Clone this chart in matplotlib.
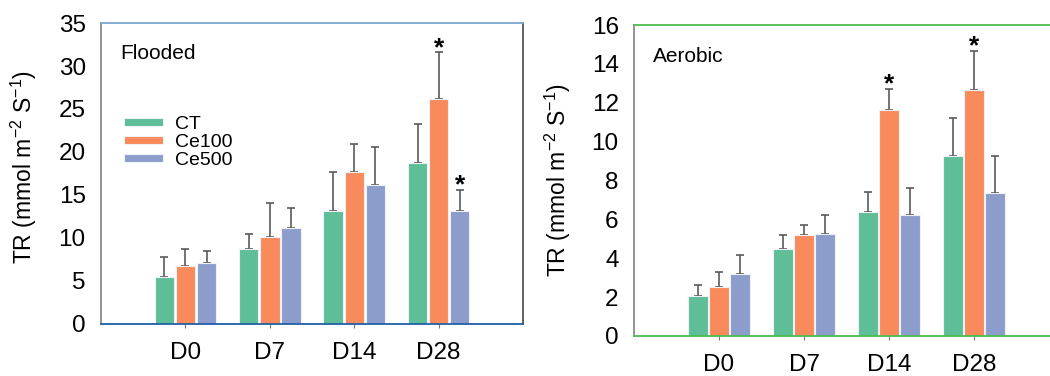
import numpy as np
import matplotlib
matplotlib.use("Agg")
import matplotlib.pyplot as plt

plt.rcParams['font.family'] = ['Liberation Sans', 'DejaVu Sans']
plt.rcParams['mathtext.default'] = 'regular'

# --- data ---
days = ["D0", "D7", "D14", "D28"]
treatments = ["CT", "Ce100", "Ce500"]

flooded_mean = {
    "CT":    [5.4, 8.7, 13.1, 18.7],
    "Ce100": [6.7, 10.1, 17.7, 26.1],
    "Ce500": [7.1, 11.1, 16.1, 13.1],
}
flooded_err = {
    "CT":    [2.3, 1.7, 4.5, 4.5],
    "Ce100": [2.0, 3.9, 3.2, 5.5],
    "Ce500": [1.3, 2.3, 4.5, 2.5],
}
aerobic_mean = {
    "CT":    [2.07, 4.48, 6.40, 9.24],
    "Ce100": [2.53, 5.22, 11.64, 12.64],
    "Ce500": [3.21, 5.24, 6.24, 7.34],
}
aerobic_err = {
    "CT":    [0.55, 0.70, 1.03, 2.00],
    "Ce100": [0.75, 0.50, 1.07, 2.05],
    "Ce500": [0.96, 0.98, 1.35, 1.94],
}
# significance stars: (treatment, day index)
flooded_stars = [("Ce100", 3), ("Ce500", 3)]
aerobic_stars = [("Ce100", 2), ("Ce100", 3)]

colors = {"CT": "#5dbe98", "Ce100": "#f98a5b", "Ce500": "#8c9dcb"}
offsets = {"CT": -0.25, "Ce100": 0.0, "Ce500": 0.25}
bar_w = 0.23

fig = plt.figure(figsize=(10.5, 3.76), dpi=100, facecolor='white')
ax1 = fig.add_axes([0.0962, 0.1396, 0.4019, 0.799])
ax2 = fig.add_axes([0.6038, 0.1064, 0.4048, 0.827])


def draw_panel(ax, means, errs, stars, ymax, yticks, label):
    x = np.arange(len(days))
    for t in treatments:
        xs = x + offsets[t]
        ax.bar(xs, means[t], width=bar_w, color=colors[t], edgecolor='#eef2f7',
               linewidth=0.8, label=t, zorder=2)
        ax.errorbar(xs, means[t], yerr=[np.zeros(len(days)), errs[t]], fmt='none',
                    ecolor='#5a5a5a', elinewidth=1.2, capsize=3, capthick=1.2, zorder=1)
    for t, i in stars:
        top = means[t][i] + errs[t][i]
        ax.annotate("*", (i + offsets[t], top), xytext=(0, -2), textcoords='offset points',
                    ha='center', va='baseline', fontsize=19, fontweight='bold')
    ax.set_xlim(-1, 4)
    ax.set_ylim(0, ymax)
    ax.set_xticks(x)
    ax.set_xticklabels(days, fontsize=17.5)
    ax.set_yticks(yticks)
    ax.set_yticklabels([str(v) for v in yticks], fontsize=17.5)
    ax.tick_params(axis='y', length=0, pad=11)
    ax.tick_params(axis='x', length=3, width=0.8, color='#777777', pad=10)
    ax.set_ylabel('TR (mmol m$^{-2}$ S$^{-1}$)', fontsize=16.5)
    ax.text(0.045, 0.9, label, transform=ax.transAxes, fontsize=15, ha='left', va='center')


draw_panel(ax1, flooded_mean, flooded_err, flooded_stars, 35, list(range(0, 36, 5)), "Flooded")
draw_panel(ax2, aerobic_mean, aerobic_err, aerobic_stars, 16, list(range(0, 17, 2)), "Aerobic")

ax1.yaxis.set_label_coords(-0.147, 0.52)
ax2.yaxis.set_label_coords(-0.1435, 0.5)

# spines
ax1.spines['top'].set_color('#7ba7d0')
ax1.spines['bottom'].set_color('#2060a8')
ax1.spines['left'].set_color('#8a8a8a')
ax1.spines['right'].set_color('#555555')
for s in ax1.spines.values():
    s.set_linewidth(1.3)
ax2.spines['top'].set_color('#4dbb4d')
ax2.spines['bottom'].set_color('#4dbb4d')
ax2.spines['left'].set_color('#8a8a8a')
ax2.spines['right'].set_visible(False)
for s in ax2.spines.values():
    s.set_linewidth(1.3)

ax1.legend(loc='upper left', bbox_to_anchor=(0.054, 0.69), frameon=False, fontsize=14,
           handlelength=2.0, handleheight=0.28, handletextpad=0.65, labelspacing=0.05,
           borderpad=0, borderaxespad=0)

fig.savefig("out.png", dpi=100, facecolor='white')
